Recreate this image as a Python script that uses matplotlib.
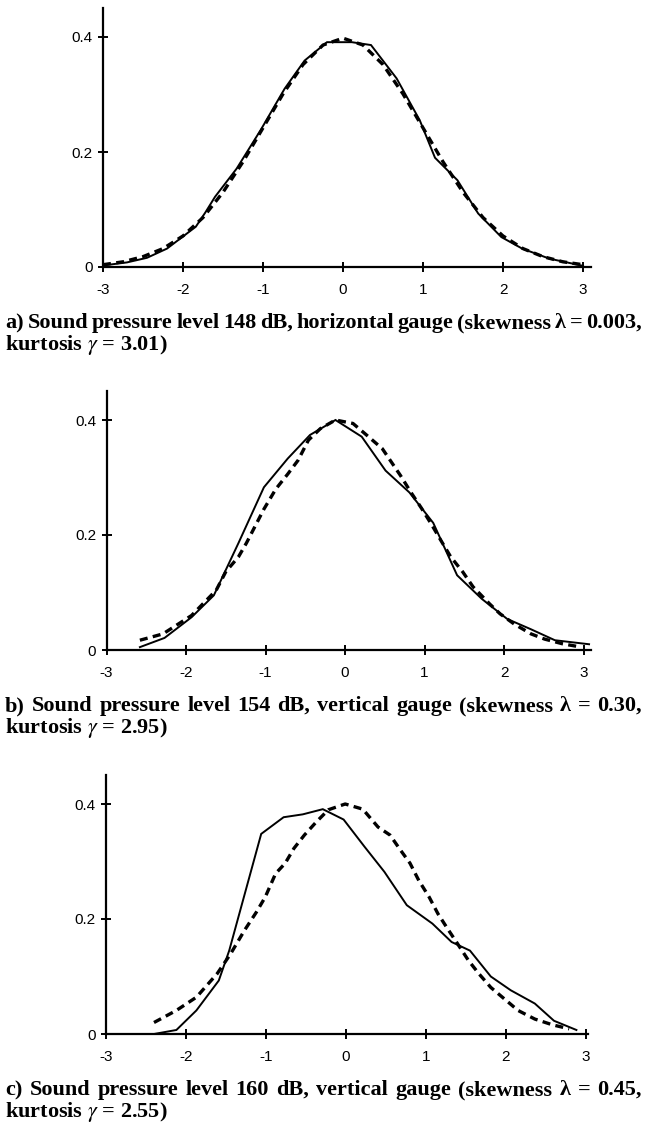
import matplotlib
matplotlib.use('Agg')
import matplotlib.pyplot as plt
from matplotlib.transforms import IdentityTransform

# ---------------- data ----------------
x_ticks = [-3, -2, -1, 0, 1, 2, 3]
x_tick_labels = ['-3', '-2', '-1', '0', '1', '2', '3']
y_ticks = [0, 0.2, 0.4]
y_tick_labels = ['0', '0.2', '0.4']

# panel a (148 dB, horizontal gauge)
a_meas_x = [-2.98, -2.7, -2.45, -2.2, -1.84, -1.72, -1.6, -1.33, -1.03, -0.73, -0.48, -0.20,
            0.11, 0.35, 0.67, 0.96, 1.15, 1.43, 1.69, 1.98, 2.24, 2.58, 3.0]
a_meas_y = [0.003, 0.008, 0.016, 0.032, 0.070, 0.095, 0.122, 0.171, 0.238, 0.310, 0.359, 0.391,
            0.391, 0.386, 0.328, 0.255, 0.190, 0.151, 0.093, 0.052, 0.032, 0.0145, 0.002]
a_fit_x = [-3.0, -2.75, -2.5, -2.25, -2.0, -1.75, -1.5, -1.25, -1.0, -0.75, -0.5, -0.25, 0.0,
           0.25, 0.5, 0.75, 1.0, 1.25, 1.5, 1.75, 2.0, 2.25, 2.5, 2.75, 3.0]
a_fit_y = [0.004, 0.009, 0.018, 0.032, 0.054, 0.086, 0.130, 0.183, 0.242, 0.301, 0.352, 0.386, 0.398,
           0.386, 0.352, 0.301, 0.242, 0.183, 0.130, 0.086, 0.054, 0.032, 0.018, 0.009, 0.004]

# panel b (154 dB, vertical gauge)
b_meas_x = [-2.58, -2.27, -1.93, -1.65, -1.34, -1.02, -0.72, -0.44, -0.12, 0.21, 0.51, 0.81,
            1.11, 1.41, 1.72, 2.04, 2.34, 2.64, 3.07]
b_meas_y = [0.005, 0.021, 0.057, 0.095, 0.186, 0.283, 0.333, 0.374, 0.400, 0.371, 0.312, 0.274,
            0.221, 0.130, 0.089, 0.054, 0.036, 0.017, 0.010]
b_fit_x = [-2.58, -2.29, -1.93, -1.62, -1.50, -1.34, -1.24, -1.02, -0.87, -0.72, -0.59, -0.46,
           -0.31, -0.12, 0.10, 0.27, 0.47, 0.70, 0.83, 0.96, 1.09, 1.20, 1.33, 1.48, 1.61, 1.82,
           1.95, 2.13, 2.34, 2.51, 2.73, 2.97]
b_fit_y = [0.017, 0.028, 0.060, 0.104, 0.136, 0.162, 0.186, 0.245, 0.280, 0.306, 0.330, 0.365,
           0.385, 0.400, 0.394, 0.374, 0.350, 0.303, 0.274, 0.247, 0.218, 0.192, 0.162, 0.136,
           0.110, 0.080, 0.063, 0.045, 0.028, 0.019, 0.011, 0.005]

# panel c (160 dB, vertical gauge)
c_meas_x = [-2.40, -2.12, -1.87, -1.59, -1.46, -1.06, -0.78, -0.54, -0.29, -0.03, 0.23, 0.48,
            0.76, 1.08, 1.32, 1.55, 1.81, 2.06, 2.36, 2.60, 2.88]
c_meas_y = [0.000, 0.007, 0.041, 0.093, 0.145, 0.348, 0.377, 0.382, 0.391, 0.373, 0.326, 0.282,
            0.224, 0.192, 0.160, 0.145, 0.100, 0.076, 0.053, 0.023, 0.007]
c_fit_x = [-2.40, -2.12, -1.87, -1.61, -1.44, -1.27, -1.12, -1.01, -0.88, -0.76, -0.65, -0.52,
           -0.37, -0.22, -0.01, 0.21, 0.40, 0.55, 0.68, 0.80, 0.91, 1.04, 1.15, 1.27, 1.38,
           1.53, 1.66, 1.81, 1.98, 2.15, 2.36, 2.58, 2.79]
c_fit_y = [0.020, 0.041, 0.064, 0.105, 0.140, 0.180, 0.212, 0.238, 0.279, 0.297, 0.323, 0.346,
           0.369, 0.390, 0.400, 0.391, 0.360, 0.346, 0.320, 0.297, 0.267, 0.238, 0.209, 0.183,
           0.160, 0.128, 0.105, 0.081, 0.061, 0.041, 0.026, 0.016, 0.009]

captions = [
    ("a) Sound pressure level 148 dB, horizontal gauge (skewness \u03bb = 0.003,",
     "kurtosis $\\gamma$ = 3.01)"),
    ("b) Sound pressure level 154 dB, vertical gauge (skewness \u03bb = 0.30,",
     "kurtosis $\\gamma$ = 2.95)"),
    ("c) Sound pressure level 160 dB, vertical gauge (skewness \u03bb = 0.45,",
     "kurtosis $\\gamma$ = 2.55)"),
]

# ---------------- figure ----------------
plt.rcParams['axes.unicode_minus'] = False
plt.rcParams['mathtext.fontset'] = 'stix'

W, H = 647, 1123
fig = plt.figure(figsize=(W / 100, H / 100), dpi=100)

# left px, zero-line px from top, px per x unit, right xlim
layouts = [
    (103.0, 267.0, 80.0, 3.1),
    (106.5, 650.0, 79.5, 3.1),
    (106.0, 1034.0, 80.0, 3.03),
]
px_per_01 = 57.5
ytop = 0.45

series = [
    (a_meas_x, a_meas_y, a_fit_x, a_fit_y),
    (b_meas_x, b_meas_y, b_fit_x, b_fit_y),
    (c_meas_x, c_meas_y, c_fit_x, c_fit_y),
]
caption_base = [(328, 350), (711, 733), (1095, 1117)]

renderer = fig.canvas.get_renderer()
cap_font = dict(family='Liberation Serif', fontweight='bold', fontsize=16, color='black')


def justified(line, y_px, x0, x1):
    words = line.split(' ')
    ts = [fig.text(0, H - y_px, w, transform=IdentityTransform(), ha='left', va='baseline', **cap_font)
          for w in words]
    widths = [t.get_window_extent(renderer).width for t in ts]
    gap = (x1 - x0 - sum(widths)) / (len(words) - 1)
    x = x0
    for t, w in zip(ts, widths):
        t.set_x(x)
        x += w + gap


for (left, y0, ppu, xr), (mx, my, fx, fy), (l1, l2), (b1, b2) in zip(layouts, series, captions, caption_base):
    width = (xr + 3) * ppu
    height = ytop * 10 * px_per_01
    ax = fig.add_axes([left / W, (H - y0) / H, width / W, height / H])
    ax.plot(fx, fy, color='black', lw=2.4, linestyle=(0, (2.4, 1.6)), dash_capstyle='butt')
    ax.plot(mx, my, color='black', lw=1.4, solid_joinstyle='miter')
    ax.set_xlim(-3, xr)
    ax.set_ylim(0, ytop)
    for s in ('top', 'right'):
        ax.spines[s].set_visible(False)
    for s in ('left', 'bottom'):
        ax.spines[s].set_linewidth(1.6)
    ax.set_xticks(x_ticks)
    ax.set_xticklabels(x_tick_labels)
    ax.set_yticks(y_ticks)
    ax.set_yticklabels(y_tick_labels)
    ax.tick_params(axis='both', direction='inout', length=7, width=1.4, labelsize=11)
    ax.tick_params(axis='x', pad=8)
    ax.tick_params(axis='y', pad=4)
    for lab in ax.get_xticklabels() + ax.get_yticklabels():
        lab.set_family('Liberation Sans')
    ax.patch.set_visible(False)

    justified(l1, b1, 5, 642)
    fig.text(5, H - b2, l2, transform=IdentityTransform(), ha='left', va='baseline', **cap_font)

fig.savefig('out.png', dpi=100)
